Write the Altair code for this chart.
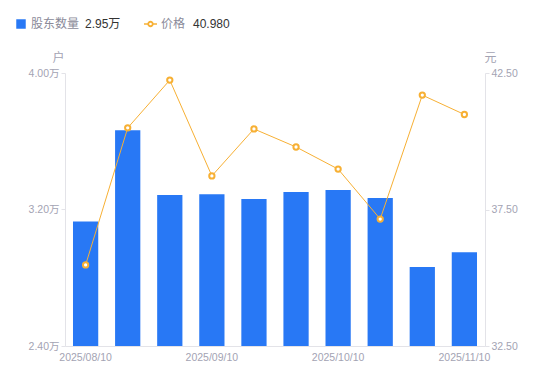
import altair as alt
import pandas as pd

dates = ["2025/08/10", "2025/08/20", "2025/08/31", "2025/09/10", "2025/09/19",
         "2025/09/30", "2025/10/10", "2025/10/20", "2025/10/31", "2025/11/10"]
holders = [3.13, 3.665, 3.285, 3.29, 3.262, 3.303, 3.314, 3.267, 2.863, 2.95]
price = [35.47, 40.49, 42.24, 38.73, 40.45, 39.79, 38.98, 37.15, 41.69, 40.98]
tick_dates = [dates[0], dates[3], dates[6], dates[9]]

df = pd.DataFrame({"date": dates, "holders": holders, "price": price})

FONT = "Liberation Sans, Noto Sans CJK SC"
BLUE = "#2878f5"
ORANGE = "#f7b034"
LABEL = "#a3a3b3"
AXISLINE = "#e3e3e8"

xaxis = alt.Axis(title=None, values=tick_dates, labelAngle=0, ticks=False,
                 labelColor=LABEL, labelFont=FONT, labelFontSize=10.5,
                 labelPadding=6, domainColor=AXISLINE, labelAlign="center")
xscale = alt.Scale(paddingInner=0.4, paddingOuter=0.19)

bars = alt.Chart(df).mark_bar(color=BLUE, clip=True).encode(
    x=alt.X("date:N", sort=dates, scale=xscale, axis=xaxis),
    y=alt.Y("holders:Q", scale=alt.Scale(domain=[2.4, 4.0], zero=False, nice=False),
            axis=alt.Axis(title="户", titleAngle=0, titleX=-7, titleY=-16,
                          titleAlign="center", titleBaseline="middle", titleColor=LABEL,
                          titleFont=FONT, titleFontSize=12, titleFontWeight="normal",
                          values=[2.4, 3.2, 4.0], labelExpr="format(datum.value, '.2f') + '万'",
                          labelColor=LABEL, labelFont=FONT, labelFontSize=10.5,
                          grid=False, tickSize=4, tickColor=AXISLINE, domainColor=AXISLINE,
                          labelPadding=2))
)

line = alt.Chart(df).mark_line(
    color=ORANGE, strokeWidth=1,
    point=alt.OverlayMarkDef(shape="circle", filled=True, fill="white", stroke=ORANGE,
                             strokeWidth=2, size=28, opacity=1)
).encode(
    x=alt.X("date:N", sort=dates, scale=xscale, axis=xaxis),
    y=alt.Y("price:Q", scale=alt.Scale(domain=[32.5, 42.5], zero=False, nice=False),
            axis=alt.Axis(title="元", orient="right", titleAngle=0, titleX=5, titleY=-16,
                          titleAlign="center", titleBaseline="middle", titleColor=LABEL,
                          titleFont=FONT, titleFontSize=12, titleFontWeight="normal",
                          values=[32.5, 37.5, 42.5], format=".2f",
                          labelColor=LABEL, labelFont=FONT, labelFontSize=10.5,
                          grid=False, tickSize=4, tickColor=AXISLINE, domainColor=AXISLINE,
                          labelPadding=2))
)

# legend annotations
leg = pd.DataFrame({"a": [0]})
LY = -49
sq = alt.Chart(leg).mark_square(color=BLUE, size=90, opacity=1).encode(
    x=alt.value(-44), y=alt.value(LY))
t1 = alt.Chart(leg).mark_text(align="left", baseline="middle", font=FONT, fontSize=12,
                              color="#8a8a99", text="股东数量").encode(x=alt.value(-34), y=alt.value(LY))
t2 = alt.Chart(leg).mark_text(align="left", baseline="middle", font=FONT, fontSize=12,
                              color="#333333", text=f"{holders[-1]:.2f}万").encode(x=alt.value(20), y=alt.value(LY))
lr = alt.Chart(leg).mark_rule(color=ORANGE, strokeWidth=1.5).encode(
    x=alt.value(79), x2=alt.value(92), y=alt.value(LY))
lp = alt.Chart(leg).mark_point(shape="circle", filled=True, fill="white", stroke=ORANGE,
                               strokeWidth=1.8, size=20, opacity=1).encode(x=alt.value(85.5), y=alt.value(LY))
t3 = alt.Chart(leg).mark_text(align="left", baseline="middle", font=FONT, fontSize=12,
                              color="#8a8a99", text="价格").encode(x=alt.value(96), y=alt.value(LY))
t4 = alt.Chart(leg).mark_text(align="left", baseline="middle", font=FONT, fontSize=12,
                              color="#333333", text=f"{price[-1]:.3f}").encode(x=alt.value(128), y=alt.value(LY))

chart = alt.layer(bars, line, sq, t1, t2, lr, lp, t3, t4).resolve_scale(
    y="independent"
).properties(
    width=420, height=273,
    background="white",
    autosize=alt.AutoSizeParams(type="none"),
    padding={"left": 57, "top": 65, "right": 57, "bottom": 27},
).configure_view(stroke="transparent", strokeWidth=0)

chart.save("out.html", embed_options={"renderer": "svg", "actions": False})
